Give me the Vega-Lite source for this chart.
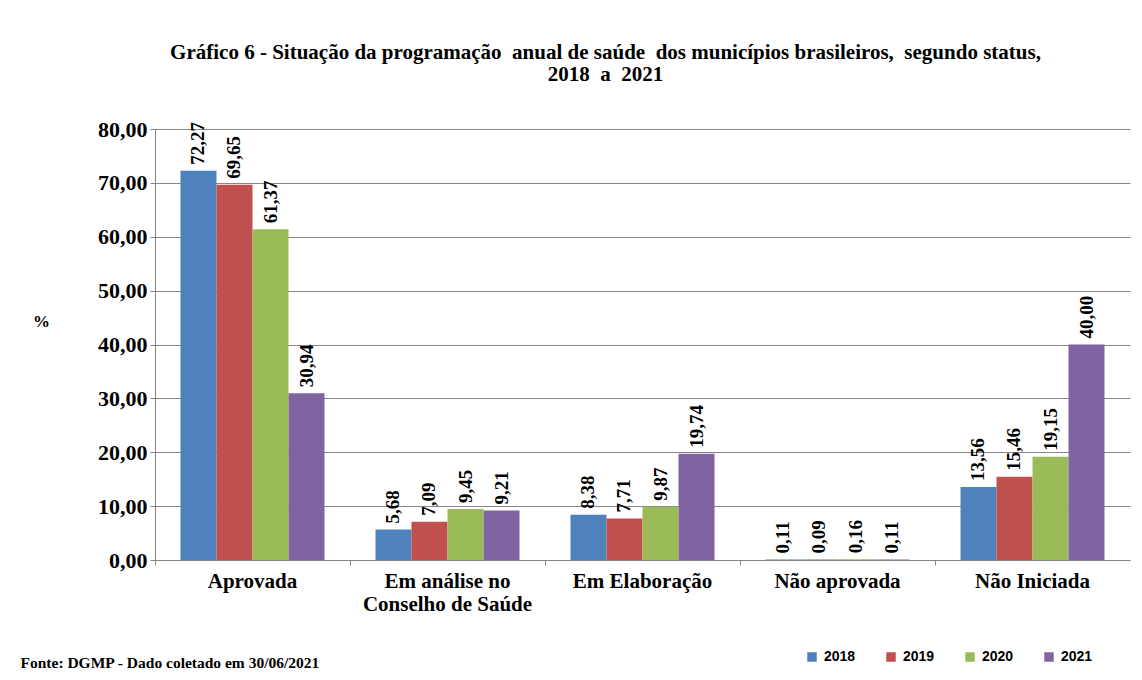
{
  "$schema": "https://vega.github.io/schema/vega-lite/v6.json",
  "autosize": "none",
  "width": 975,
  "height": 431,
  "padding": {"left": 155, "top": 129, "right": 12, "bottom": 120},
  "background": "white",
  "title": {
    "text": ["Gráfico 6 - Situação da programação\u00a0 anual de saúde\u00a0 dos municípios brasileiros,\u00a0 segundo status,", "2018\u00a0 a\u00a0 2021"],
    "font": "Liberation Serif, Times New Roman, DejaVu Serif, serif",
    "fontSize": 21,
    "fontWeight": "bold",
    "color": "black",
    "anchor": "middle",
    "dx": -37,
    "offset": 33,
    "lineHeight": 22
  },
  "config": {
    "locale": {"number": {"decimal": ",", "thousands": ".", "grouping": [3], "currency": ["R$", ""]}},
    "font": "Liberation Serif, Times New Roman, DejaVu Serif, serif",
    "view": {"stroke": null}
  },
  "data": {
    "values": [
      {"status": "Aprovada", "ano": "2018", "valor": 72.27},
      {"status": "Aprovada", "ano": "2019", "valor": 69.65},
      {"status": "Aprovada", "ano": "2020", "valor": 61.37},
      {"status": "Aprovada", "ano": "2021", "valor": 30.94},
      {"status": "Em análise no Conselho de Saúde", "ano": "2018", "valor": 5.68},
      {"status": "Em análise no Conselho de Saúde", "ano": "2019", "valor": 7.09},
      {"status": "Em análise no Conselho de Saúde", "ano": "2020", "valor": 9.45},
      {"status": "Em análise no Conselho de Saúde", "ano": "2021", "valor": 9.21},
      {"status": "Em Elaboração", "ano": "2018", "valor": 8.38},
      {"status": "Em Elaboração", "ano": "2019", "valor": 7.71},
      {"status": "Em Elaboração", "ano": "2020", "valor": 9.87},
      {"status": "Em Elaboração", "ano": "2021", "valor": 19.74},
      {"status": "Não aprovada", "ano": "2018", "valor": 0.11},
      {"status": "Não aprovada", "ano": "2019", "valor": 0.09},
      {"status": "Não aprovada", "ano": "2020", "valor": 0.16},
      {"status": "Não aprovada", "ano": "2021", "valor": 0.11},
      {"status": "Não Iniciada", "ano": "2018", "valor": 13.56},
      {"status": "Não Iniciada", "ano": "2019", "valor": 15.46},
      {"status": "Não Iniciada", "ano": "2020", "valor": 19.15},
      {"status": "Não Iniciada", "ano": "2021", "valor": 40.0}
    ]
  },
  "encoding": {
    "x": {
      "field": "status",
      "type": "nominal",
      "sort": null,
      "scale": {"paddingInner": 0, "paddingOuter": 0},
      "axis": {
        "title": "Fonte: DGMP - Dado coletado em 30/06/2021",
        "titleFont": "Liberation Serif, Times New Roman, DejaVu Serif, serif",
        "titleFontSize": 15.5,
        "titleFontWeight": "bold",
        "titleColor": "black",
        "titleAnchor": "start",
        "titleAlign": "left",
        "titleBaseline": "middle",
        "titleX": -135,
        "titleY": 102,
        "labelAngle": 0,
        "labelFont": "Liberation Serif, Times New Roman, DejaVu Serif, serif",
        "labelFontSize": 21,
        "labelFontWeight": "bold",
        "labelColor": "black",
        "labelPadding": 5,
        "labelLineHeight": 23,
        "labelExpr": "datum.label == 'Em análise no Conselho de Saúde' ? ['Em análise no', 'Conselho de Saúde'] : datum.label",
        "bandPosition": 0,
        "tickSize": 5,
        "tickColor": "#868686",
        "domainColor": "#868686",
        "grid": false
      }
    },
    "xOffset": {
      "field": "ano",
      "type": "nominal",
      "scale": {"paddingInner": 0, "paddingOuter": 0.708}
    },
    "y": {
      "field": "valor",
      "type": "quantitative",
      "scale": {"domain": [0, 80]},
      "axis": {
        "title": "%",
        "titleAngle": 0,
        "titleFont": "Liberation Serif, Times New Roman, DejaVu Serif, serif",
        "titleFontSize": 17,
        "titleFontWeight": "bold",
        "titleColor": "black",
        "titleX": -114,
        "titleY": 192,
        "titleAlign": "center",
        "titleBaseline": "middle",
        "values": [0, 10, 20, 30, 40, 50, 60, 70, 80],
        "format": ".2f",
        "labelFont": "Liberation Serif, Times New Roman, DejaVu Serif, serif",
        "labelFontSize": 22,
        "labelFontWeight": "bold",
        "labelColor": "black",
        "labelPadding": 3,
        "tickSize": 5,
        "tickColor": "#868686",
        "domainColor": "#868686",
        "gridColor": "#868686",
        "gridWidth": 1
      }
    }
  },
  "layer": [
    {
      "mark": {"type": "bar"},
      "encoding": {
        "color": {
          "field": "ano",
          "type": "nominal",
          "scale": {"domain": ["2018", "2019", "2020", "2021"], "range": ["#4F81BD", "#C0504D", "#9BBB59", "#8064A2"]},
          "legend": {
            "title": null,
            "orient": "none",
            "direction": "horizontal",
            "legendX": 650,
            "legendY": 521,
            "symbolType": "square",
            "symbolSize": 90,
            "symbolStrokeWidth": 0,
            "labelFont": "Liberation Sans, Arial, sans-serif",
            "labelFontSize": 14,
            "labelFontWeight": "bold",
            "labelColor": "black",
            "labelOffset": 5,
            "columnPadding": 28
          }
        }
      }
    },
    {
      "mark": {"type": "text", "angle": -90, "align": "left", "baseline": "middle", "dx": 6, "font": "Liberation Serif, Times New Roman, DejaVu Serif, serif", "fontSize": 19, "fontWeight": "bold", "color": "black"},
      "encoding": {
        "text": {"field": "valor", "type": "quantitative", "format": ".2f"}
      }
    }
  ]
}
